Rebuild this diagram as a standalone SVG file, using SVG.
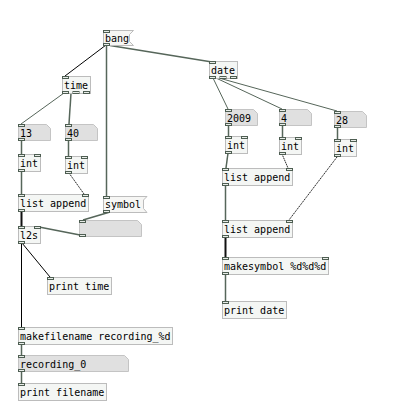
<svg xmlns="http://www.w3.org/2000/svg" width="402" height="409" viewBox="0 0 402 409">
<style>
.obj{fill:#f4f6f4;stroke:#bcbcbc;stroke-width:1}
.atom{fill:#e0e0e0;stroke:#c4c4c4;stroke-width:1}
.msg{fill:#f6f6f4;stroke:#bcbcbc;stroke-width:1}
.io{fill:#e8ece8;stroke:#4e5e52;stroke-width:1}
text{font-family:"DejaVu Sans Mono",monospace;font-size:10px;fill:#000}
.c{stroke:#56665a;stroke-width:1.5;fill:none}
.ct{stroke:#56665a;stroke-width:1;fill:none}
.cb{stroke:#000;stroke-width:1;fill:none}
.cB{stroke:#111;stroke-width:2;fill:none}
.cd{stroke:#222;stroke-width:1;fill:none;stroke-dasharray:1.5 0.7}
</style>
<rect width="402" height="409" fill="#fff"/>
<g id="connectors">
<line class="cb" x1="106" y1="45" x2="65" y2="76"/>
<line class="c" x1="106.5" y1="45" x2="106.5" y2="196"/>
<line class="c" x1="110" y1="45.5" x2="212" y2="62"/>
<line class="ct" x1="64" y1="93" x2="21" y2="124"/>
<line class="c" x1="71" y1="93" x2="69" y2="124"/>
<line class="c" x1="21.5" y1="140" x2="21.5" y2="154"/>
<line class="c" x1="68.5" y1="140" x2="68.5" y2="156"/>
<line class="c" x1="21.5" y1="171" x2="21.5" y2="194"/>
<line class="cd" x1="69" y1="173" x2="84" y2="194"/>
<line class="cB" x1="21.5" y1="211" x2="21.5" y2="226"/>
<line class="c" x1="110" y1="212" x2="83" y2="220"/>
<line class="c" x1="39" y1="227" x2="80" y2="235"/>
<line class="cb" x1="22" y1="243" x2="50" y2="277"/>
<line class="cb" x1="21.5" y1="243" x2="21.5" y2="327"/>
<line class="c" x1="21.5" y1="344" x2="21.5" y2="355"/>
<line class="c" x1="21.5" y1="371" x2="21.5" y2="383"/>
<line class="ct" x1="213" y1="78" x2="228" y2="109"/>
<line class="ct" x1="216" y1="78" x2="282" y2="109"/>
<line class="ct" x1="219" y1="78" x2="337" y2="111"/>
<line class="c" x1="228.5" y1="125" x2="228.5" y2="136"/>
<line class="c" x1="282.5" y1="125" x2="282.5" y2="137"/>
<line class="c" x1="337.5" y1="127" x2="337.5" y2="139"/>
<line class="c" x1="228" y1="153" x2="226" y2="168"/>
<line class="cd" x1="282" y1="154" x2="288" y2="168"/>
<line class="cd" x1="337" y1="157" x2="289" y2="220"/>
<line class="c" x1="225.5" y1="185" x2="225.5" y2="220"/>
<line class="cB" x1="225.5" y1="237" x2="225.5" y2="257"/>
<line class="c" x1="225.5" y1="274" x2="225.5" y2="301"/>
</g>
<g id="bang">
<polygon class="msg" points="103.5,30.5 133.5,30.5 129.5,34.5 129.5,41.5 133.5,45.5 103.5,45.5"/>
<rect class="io" x="103.5" y="30.5" width="6" height="2"/><rect class="io" x="103.5" y="43.5" width="6" height="2"/>
<text x="105" y="42">bang</text>
</g>
<g id="time">
<rect class="obj" x="62.5" y="76.5" width="28" height="17"/>
<rect class="io" x="62.5" y="76.5" width="6" height="2"/>
<rect class="io" x="62.5" y="91.5" width="6" height="2"/><rect class="io" x="73" y="91.5" width="6" height="2"/><rect class="io" x="83.5" y="91.5" width="6" height="2"/>
<text x="64" y="89">time</text>
</g>
<g id="n13">
<polygon class="atom" points="18.5,124.5 46.5,124.5 50.5,128.5 50.5,140.5 18.5,140.5"/>
<rect class="io" x="18.5" y="124.5" width="6" height="2"/><rect class="io" x="18.5" y="138.5" width="6" height="2"/>
<text x="20" y="137">13</text>
</g>
<g id="n40">
<polygon class="atom" points="65.5,124.5 93.5,124.5 97.5,128.5 97.5,140.5 65.5,140.5"/>
<rect class="io" x="65.5" y="124.5" width="6" height="2"/><rect class="io" x="65.5" y="138.5" width="6" height="2"/>
<text x="67" y="137">40</text>
</g>
<g id="int1">
<rect class="obj" x="18.5" y="154.5" width="22" height="17"/>
<rect class="io" x="18.5" y="154.5" width="6" height="2"/><rect class="io" x="34.5" y="154.5" width="6" height="2"/><rect class="io" x="18.5" y="169.5" width="6" height="2"/>
<text x="20" y="167">int</text>
</g>
<g id="int2">
<rect class="obj" x="65.5" y="156.5" width="22" height="17"/>
<rect class="io" x="65.5" y="156.5" width="6" height="2"/><rect class="io" x="81.5" y="156.5" width="6" height="2"/><rect class="io" x="65.5" y="171.5" width="6" height="2"/>
<text x="67" y="169">int</text>
</g>
<g id="listappend1">
<rect class="obj" x="18.5" y="194.5" width="70" height="17"/>
<rect class="io" x="18.5" y="194.5" width="6" height="2"/><rect class="io" x="82.5" y="194.5" width="6" height="2"/><rect class="io" x="18.5" y="209.5" width="6" height="2"/>
<text x="20" y="207">list append</text>
</g>
<g id="symbol">
<polygon class="msg" points="103.5,196.5 147,196.5 143.5,200 143.5,208.5 147,212.5 103.5,212.5"/>
<rect class="io" x="103.5" y="196.5" width="6" height="2"/><rect class="io" x="103.5" y="210.5" width="6" height="2"/>
<text x="105" y="208">symbol</text>
</g>
<g id="symatom">
<polygon class="atom" points="79.5,220.5 137.5,220.5 141.5,224.5 141.5,236.5 79.5,236.5"/>
<rect class="io" x="79.5" y="220.5" width="6" height="2"/><rect class="io" x="79.5" y="234.5" width="6" height="2"/>
</g>
<g id="l2s">
<rect class="obj" x="18.5" y="226.5" width="22" height="17"/>
<rect class="io" x="18.5" y="226.5" width="6" height="2"/><rect class="io" x="34.5" y="226.5" width="6" height="2"/><rect class="io" x="18.5" y="241.5" width="6" height="2"/>
<text x="20" y="239">l2s</text>
</g>
<g id="printtime">
<rect class="obj" x="47.5" y="277.5" width="64" height="17"/>
<rect class="io" x="47.5" y="277.5" width="6" height="2"/>
<text x="49" y="290">print time</text>
</g>
<g id="makefilename">
<rect class="obj" x="18.5" y="327.5" width="154" height="17"/>
<rect class="io" x="18.5" y="327.5" width="6" height="2"/><rect class="io" x="18.5" y="342.5" width="6" height="2"/>
<text x="20" y="340">makefilename recording_%d</text>
</g>
<g id="recording">
<polygon class="atom" points="18.5,355.5 124.5,355.5 128.5,359.5 128.5,371.5 18.5,371.5"/>
<rect class="io" x="18.5" y="355.5" width="6" height="2"/><rect class="io" x="18.5" y="369.5" width="6" height="2"/>
<text x="20" y="368">recording_0</text>
</g>
<g id="printfilename">
<rect class="obj" x="18.5" y="383.5" width="88" height="17"/>
<rect class="io" x="18.5" y="383.5" width="6" height="2"/>
<text x="20" y="396">print filename</text>
</g>
<g id="date">
<rect class="obj" x="209.5" y="61.5" width="28" height="17"/>
<rect class="io" x="209.5" y="61.5" width="6" height="2"/>
<rect class="io" x="209.5" y="76.5" width="6" height="2"/><rect class="io" x="220" y="76.5" width="6" height="2"/><rect class="io" x="230.5" y="76.5" width="6" height="2"/>
<text x="211" y="74">date</text>
</g>
<g id="n2009">
<polygon class="atom" points="225.5,109.5 253.5,109.5 257.5,113.5 257.5,125.5 225.5,125.5"/>
<rect class="io" x="225.5" y="109.5" width="6" height="2"/><rect class="io" x="225.5" y="123.5" width="6" height="2"/>
<text x="227" y="122">2009</text>
</g>
<g id="n4">
<polygon class="atom" points="279.5,109.5 307.5,109.5 311.5,113.5 311.5,125.5 279.5,125.5"/>
<rect class="io" x="279.5" y="109.5" width="6" height="2"/><rect class="io" x="279.5" y="123.5" width="6" height="2"/>
<text x="281" y="122">4</text>
</g>
<g id="n28">
<polygon class="atom" points="334.5,111.5 362.5,111.5 366.5,115.5 366.5,127.5 334.5,127.5"/>
<rect class="io" x="334.5" y="111.5" width="6" height="2"/><rect class="io" x="334.5" y="125.5" width="6" height="2"/>
<text x="336" y="124">28</text>
</g>
<g id="int3">
<rect class="obj" x="225.5" y="136.5" width="22" height="17"/>
<rect class="io" x="225.5" y="136.5" width="6" height="2"/><rect class="io" x="241.5" y="136.5" width="6" height="2"/><rect class="io" x="225.5" y="151.5" width="6" height="2"/>
<text x="227" y="149">int</text>
</g>
<g id="int4">
<rect class="obj" x="279.5" y="137.5" width="22" height="17"/>
<rect class="io" x="279.5" y="137.5" width="6" height="2"/><rect class="io" x="295.5" y="137.5" width="6" height="2"/><rect class="io" x="279.5" y="152.5" width="6" height="2"/>
<text x="281" y="150">int</text>
</g>
<g id="int5">
<rect class="obj" x="334.5" y="139.5" width="22" height="17"/>
<rect class="io" x="334.5" y="139.5" width="6" height="2"/><rect class="io" x="350.5" y="139.5" width="6" height="2"/><rect class="io" x="334.5" y="154.5" width="6" height="2"/>
<text x="336" y="152">int</text>
</g>
<g id="listappend2">
<rect class="obj" x="222.5" y="168.5" width="70" height="17"/>
<rect class="io" x="222.5" y="168.5" width="6" height="2"/><rect class="io" x="286.5" y="168.5" width="6" height="2"/><rect class="io" x="222.5" y="183.5" width="6" height="2"/>
<text x="224" y="181">list append</text>
</g>
<g id="listappend3">
<rect class="obj" x="222.5" y="220.5" width="70" height="17"/>
<rect class="io" x="222.5" y="220.5" width="6" height="2"/><rect class="io" x="286.5" y="220.5" width="6" height="2"/><rect class="io" x="222.5" y="235.5" width="6" height="2"/>
<text x="224" y="233">list append</text>
</g>
<g id="makesymbol">
<rect class="obj" x="222.5" y="257.5" width="106" height="17"/>
<rect class="io" x="222.5" y="257.5" width="6" height="2"/><rect class="io" x="322.5" y="257.5" width="6" height="2"/><rect class="io" x="222.5" y="272.5" width="6" height="2"/>
<text x="224" y="270">makesymbol %d%d%d</text>
</g>
<g id="printdate">
<rect class="obj" x="222.5" y="301.5" width="64" height="17"/>
<rect class="io" x="222.5" y="301.5" width="6" height="2"/>
<text x="224" y="314">print date</text>
</g>
</svg>
